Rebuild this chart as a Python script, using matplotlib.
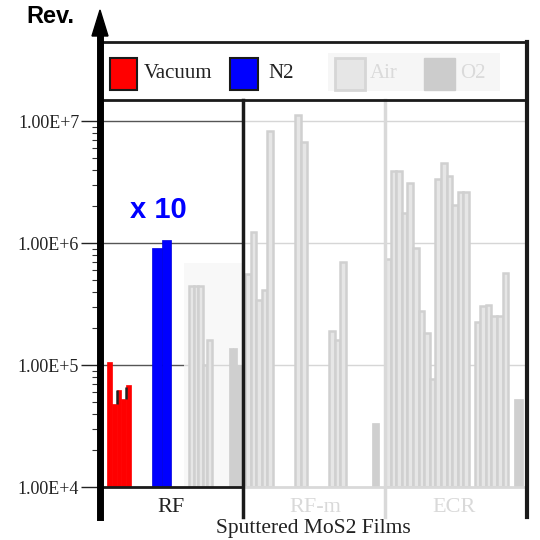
import numpy as np
import matplotlib
matplotlib.use('Agg')
import matplotlib.pyplot as plt
from matplotlib.patches import Rectangle, Polygon
from matplotlib.ticker import NullFormatter

nan = np.nan

# y ticks
ticks = [1e4, 1e5, 1e6, 1e7]
tick_labels = ['1.00E+4', '1.00E+5', '1.00E+6', '1.00E+7']
groups = ['RF', 'RF-m', 'ECR']
legend_names = ['Vacuum', 'N2', 'Air', 'O2']

# Rev. values (nan = empty slot)
rf_vacuum = [1.05e5, 4.8e4, 6.2e4, 5.3e4, 6.8e4]
rf_vacuum_err = [0, 1.4e4, 0, 1.3e4, 0]
rf_n2 = [9.1e5, 1.05e6]
rf_air = [4.45e5, 4.45e5, 4.4e5, 1.0e5, 1.6e5]
rf_o2 = [1.37e5, 1.37e5, 1.0e5]
rf_shade = 6.9e5

rfm_air = [5.6e5, 1.24e6, 3.4e5, 4.1e5, 8.3e6, nan, nan, nan, nan,
           1.11e7, 6.7e6, nan, nan, nan, nan, 1.9e5, 1.6e5, 7.0e5]
rfm_o2 = [3.35e4]
ecr_air = [7.4e5, 3.92e6, 3.92e6, 1.75e6, 3.08e6, 9.1e5, 2.79e5, 1.83e5,
           7.7e4, 3.32e6, 4.5e6, 3.54e6, 2.05e6, 2.6e6, 2.6e6, nan,
           2.24e5, 3.05e5, 3.1e5, 2.54e5, 2.54e5, 5.7e5]
ecr_o2 = [5.3e4]

YMIN = 1e4
YMAX = 10 ** (4 + 387 / 122)

SERIF = 'Liberation Serif'
SANS = 'Liberation Sans'
LIGHT = '#d9d9d9'

fig = plt.figure(figsize=(5.4, 5.4), dpi=100)
ax = fig.add_axes([100 / 540, 53 / 540, 427 / 540, 387 / 540])
ax.set_yscale('log')
ax.set_ylim(YMIN, YMAX)
ax.set_xlim(0, 427)


def yf(py):
    # pixel row -> axes fraction
    return (487 - py) / 387


def draw_bars(vals, start, w, **kw):
    vals = np.array(vals, dtype=float)
    x = start + np.arange(len(vals)) * w
    ok = ~np.isnan(vals)
    return ax.bar(x[ok], vals[ok] - YMIN, width=w, bottom=YMIN,
                  align='edge', zorder=2, **kw)


air_style = dict(color='#e6e6e6', edgecolor='#d0d0d0', linewidth=1.8)
o2_style = dict(color='#cfcfcf', edgecolor='#cfcfcf', linewidth=0.5)

# grid lines
for t in ticks[1:]:
    ax.plot([0, 143], [t, t], color='#555555', lw=1, zorder=0.5)
    ax.plot([143, 427], [t, t], color='#d6d6d6', lw=1, zorder=0.5)

# RF
ax.add_patch(Rectangle((84, YMIN), 57.7, rf_shade - YMIN, color='#f7f7f7',
                       alpha=0.8, lw=0, zorder=1))
draw_bars(rf_vacuum, 7, 4.8, color='#ff0000', edgecolor='#ff0000', linewidth=0.5)
xv = 7 + np.arange(len(rf_vacuum)) * 4.8 + 4.8
ax.errorbar(xv[[1, 3]], np.array(rf_vacuum)[[1, 3]],
            yerr=[[0, 0], np.array(rf_vacuum_err)[[1, 3]]],
            fmt='none', ecolor='#222222', elinewidth=1.8, capsize=0, zorder=3)
draw_bars(rf_n2, 52.3, 9.3, color='#0000ff', edgecolor='#0000dd', linewidth=0.5)
draw_bars(rf_air, 89, 4.5, **air_style)
draw_bars(rf_o2, 129, 4.2, **o2_style)

# RF-m
draw_bars(rfm_air, 145, 5.6, **air_style)
draw_bars(rfm_o2, 272.3, 7, **o2_style)

# ECR
draw_bars(ecr_air, 285, 5.6, **air_style)
draw_bars(ecr_o2, 414.3, 8.4, **o2_style)

ax.text(58, yf(210), 'x 10', color='#0000ff', fontsize=21, fontweight='bold',
        family=SANS, ha='center', va='center', transform=ax.get_xaxis_transform())

# frame lines
tr = ax.get_xaxis_transform()
yb = yf(517)
ax.plot([143, 143], [yb, 1], color='#1a1a1a', lw=2.5, transform=tr, clip_on=False, zorder=4)
ax.plot([285, 285], [yb, 1], color=LIGHT, lw=2.5, transform=tr, clip_on=False, zorder=4)
ax.plot([427, 427], [yb, yf(42)], color='#1a1a1a', lw=3, transform=tr, clip_on=False, zorder=4)
ax.plot([0, 0], [yb, yf(34)], color='black', lw=5, transform=tr, clip_on=False, zorder=5)
ax.plot([0, 427], [1, 1], color='#1a1a1a', lw=2, transform=tr, clip_on=False, zorder=4)
ax.plot([0, 427], [yf(42), yf(42)], color='#1a1a1a', lw=2, transform=tr, clip_on=False, zorder=4)
ax.plot([0, 143], [0, 0], color='#1a1a1a', lw=2, transform=tr, clip_on=False, zorder=4)
ax.plot([143, 427], [0, 0], color=LIGHT, lw=2, transform=tr, clip_on=False, zorder=3)
ax.add_patch(Polygon([(0, yf(10)), (-8, yf(36)), (8, yf(36))], closed=True,
                     color='black', transform=tr, clip_on=False, zorder=5))

ax.text(-50, yf(17), 'Rev.', fontsize=17, fontweight='bold', family=SANS,
        ha='center', va='center', transform=tr)

# legend
def leg_patch(x0, w, **kw):
    ax.add_patch(Rectangle((x0, yf(90)), w, yf(58) - yf(90), transform=tr,
                           clip_on=False, zorder=5, **kw))

ax.add_patch(Rectangle((228, yf(91)), 172, yf(53) - yf(91), transform=tr,
                       clip_on=False, color='#f6f6f6', lw=0, zorder=4))
leg_patch(10, 27, facecolor='#ff0000', edgecolor='#1a1a1a', lw=1.5)
leg_patch(130, 28, facecolor='#0000ff', edgecolor='#1a1a1a', lw=1.5)
leg_patch(235, 30, facecolor='#e6e6e6', edgecolor='#d6d6d6', lw=2)
leg_patch(324, 31, facecolor='#cccccc', edgecolor='#cccccc', lw=1)
for xt, name, col in zip([44, 168, 270, 360], legend_names,
                         ['#222222', '#222222', '#dadada', '#dadada']):
    ax.text(xt, yf(74), name, fontsize=15, family=SERIF, color=col,
            ha='left', va='center', transform=tr, zorder=6)

# group labels
for xc, g, col in zip([71, 215, 354], groups, ['#222222', LIGHT, LIGHT]):
    ax.text(xc, yf(507), g, fontsize=16, family=SERIF, color=col,
            ha='center', va='center', transform=tr)
ax.text(213, yf(528), 'Sputtered MoS2 Films', fontsize=15.5, family=SERIF,
        color='#222222', ha='center', va='center', transform=tr)

# axes styling
for s in ax.spines.values():
    s.set_visible(False)
ax.set_xticks([])
ax.set_yticks(ticks, tick_labels)
ax.yaxis.set_minor_formatter(NullFormatter())
ax.tick_params(axis='y', which='major', length=14, width=1, pad=1,
               labelsize=13, colors='#222222')
ax.tick_params(axis='y', which='minor', length=6, width=0.8, colors='#333333')
for lab in ax.get_yticklabels():
    lab.set_family(SERIF)

fig.savefig('out.png', dpi=100)
